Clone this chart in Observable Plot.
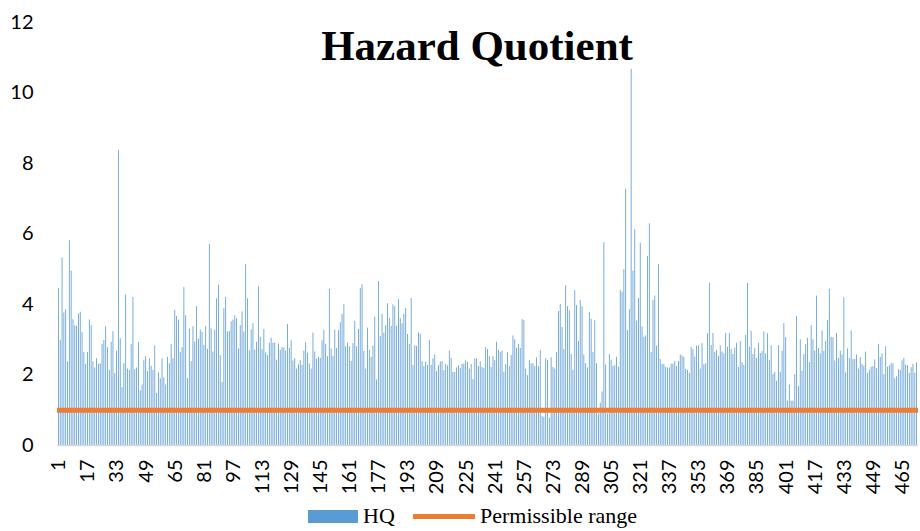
<!DOCTYPE html>
<html><head><meta charset="utf-8">
<script src="https://cdn.jsdelivr.net/npm/d3@7"></script>
<script src="https://cdn.jsdelivr.net/npm/@observablehq/plot@0.6"></script>
<style>
body{margin:0;background:#fff;}
#wrap{position:relative;width:920px;}
#legend{position:relative;width:920px;height:31px;font-family:"Liberation Serif","Times New Roman",serif;font-size:22px;color:#000;}
#legend span{position:absolute;}
</style></head><body><div id="wrap"></div>
<script>
const title = "Hazard Quotient";
const seriesNames = ["HQ", "Permissible range"];
const seriesColors = ["#5B9BD5", "#ED7D31"];
const permissible = 1;
const yTicks = [0, 2, 4, 6, 8, 10, 12];
const xTickLabels = [1,17,33,49,65,81,97,113,129,145,161,177,193,209,225,241,257,273,289,305,321,337,353,369,385,401,417,433,449,465];
const hq = [
4.45,2.98,5.32,3.76,3.85,2.37,5.81,4.95,3.57,3.40,3.38,3.73,3.78,3.2,2.64,2.30,2.64,3.56,3.40,2.37,2.2,2.46,2.3,2.32,2.87,2.98,3.37,2.77,2.13,2.93,3.23,2.04,2.68,8.37,3.03,1.64,2.32,4.27,2.17,2.13,2.86,4.2,2.15,2.2,2.93,1.55,1.72,2.42,2.52,2.1,2.46,2.25,2.13,2.82,1.48,2.06,1.89,2.46,1.92,
1.72,2.5,2.32,2.87,2.46,3.84,3.66,3.56,2.64,2.78,4.48,3.68,1.9,3.3,2.38,3.37,2.93,3.94,3.02,3.28,3.21,2.84,3.37,2.73,5.7,3.31,2.65,3.27,4.16,4.55,2.55,1.79,3.88,4.2,3.22,3.24,3.51,3.56,3.68,3.6,2.74,3.4,3.79,3.22,5.13,4.16,2.69,3.28,3.46,2.71,2.93,4.5,3.07,2.72,3.29,2.63,2.55,2.9,
3.04,2.9,2.91,2.42,2.88,2.70,2.78,2.76,2.68,3.43,2.75,2.97,2.4,2.46,2.17,2.29,2.41,2.27,2.68,2.92,2.62,2.31,2.17,3.19,2.65,2.45,2.5,2.47,2.97,3.27,2.87,2.52,4.43,2.74,2.52,3.27,2.75,3.26,3.48,3.72,4.0,2.8,2.91,2.8,2.39,2.89,3.52,2.8,3.29,4.46,4.56,2.67,2.17,3.33,2.70,2.5,2.82,3.64,
1.86,4.65,3.09,3.72,3.19,3.40,4.02,3.60,3.38,3.99,3.94,3.38,4.14,3.60,3.46,3.72,3.89,3.15,2.87,4.17,2.27,2.83,2.81,3.20,3.16,2.38,2.24,2.36,2.27,2.98,2.27,2.46,2.57,2.10,2.26,2.37,2.38,2.12,2.30,2.26,2.68,2.47,2.07,2.07,2.20,2.26,2.18,2.30,2.31,2.40,2.36,2.17,2.30,1.87,2.46,2.46,2.24,2.37,
2.21,2.19,2.78,2.72,2.52,2.21,2.52,2.41,2.93,2.70,2.64,2.68,2.08,2.30,2.63,2.24,2.55,3.11,3.0,2.76,2.87,2.75,3.57,3.55,2.17,1.98,2.41,2.31,2.32,2.24,2.49,2.24,2.69,0.83,0.80,2.46,2.41,0.77,2.49,2.21,2.17,2.64,3.80,4.0,3.35,2.72,4.53,3.94,3.82,2.58,2.13,4.39,3.97,2.95,4.11,3.94,2.57,2.32,
2.20,3.77,3.58,2.64,3.54,2.32,0.9,1.20,1.52,5.75,2.28,0.9,2.58,2.42,2.24,2.27,2.50,2.22,4.40,4.35,4.99,7.27,3.26,3.85,10.67,4.95,6.12,3.53,4.17,5.74,3.36,3.07,3.11,5.36,6.29,2.64,4.11,4.24,2.82,5.13,2.44,2.30,2.30,2.22,2.20,2.20,2.31,2.31,2.38,2.24,2.38,2.57,2.54,2.50,2.16,2.13,
2.05,2.78,2.72,2.51,2.82,2.83,2.17,2.89,2.29,2.32,3.17,4.60,2.84,3.18,2.64,2.70,2.53,2.83,2.65,2.60,3.18,2.79,3.18,2.72,2.58,2.76,2.90,2.22,2.95,2.35,2.27,3.12,4.60,2.79,3.24,2.58,2.75,2.47,2.90,2.61,2.66,3.22,2.6,3.17,2.41,2.83,2.01,2.07,1.82,2.83,2.07,2.68,3.46,3.06,1.26,1.71,1.26,
1.26,2.01,3.66,1.67,3.0,2.11,2.58,2.86,3.04,2.35,3.40,3.0,2.68,4.24,2.75,2.60,3.25,2.67,2.95,3.55,4.43,3.07,3.06,2.40,3.18,2.47,2.68,2.57,4.19,2.06,2.74,2.47,3.25,2.44,2.44,2.57,2.17,2.49,2.30,2.25,2.65,2.05,2.13,2.22,2.24,2.43,2.18,2.87,2.50,2.60,2.01,2.80,2.22,2.26,2.32,2.32,1.89,1.95,2.15,2.13,2.40,2.47,2.28,2.26,2.05,2.21,2.30,2.05,2.34
];

const data = hq.map((v, i) => ({idx: i + 1, v}));

const chart = Plot.plot({
  width: 920, height: 500,
  marginLeft: 57, marginRight: 2, marginTop: 22, marginBottom: 55,
  x: {type: "band", domain: data.map(d => d.idx), padding: 0.55},
  y: {domain: [0, 12]},
  style: {fontFamily: "Lato, 'Open Sans', sans-serif", fontSize: "20px", color: "#000", background: "#fff", overflow: "visible"},
  marks: [
    Plot.barY(data, {x: "idx", y: "v", fill: seriesColors[0]}),
    Plot.ruleY([0], {stroke: "#D9D9D9", strokeWidth: 1.5}),
    Plot.ruleY([permissible], {stroke: seriesColors[1], strokeWidth: 5}),
    Plot.axisY({ticks: yTicks, tickSize: 0, tickPadding: 24, label: null, fontSize: 20}),
    Plot.axisX({ticks: xTickLabels, tickSize: 0, tickRotate: -90, tickPadding: 14, label: null, fontSize: 20}),
    Plot.text([title], {text: d => d, frameAnchor: "top", dx: -11, dy: 7, lineAnchor: "top", fontFamily: "'Liberation Serif', 'Times New Roman', serif", fontWeight: "bold", fontSize: 43, fill: "#000"})
  ]
});
document.getElementById("wrap").appendChild(chart);

const legend = document.createElement("div");
legend.id = "legend";
legend.innerHTML =
  `<span style="left:308px;top:10px;width:50px;height:13px;background:${seriesColors[0]}"></span>` +
  `<span style="left:363px;top:0;line-height:31px">${seriesNames[0]}</span>` +
  `<span style="left:413px;top:14px;width:62px;height:5px;background:${seriesColors[1]}"></span>` +
  `<span style="left:480px;top:0;line-height:31px">${seriesNames[1]}</span>`;
document.getElementById("wrap").appendChild(legend);
</script></body></html>
